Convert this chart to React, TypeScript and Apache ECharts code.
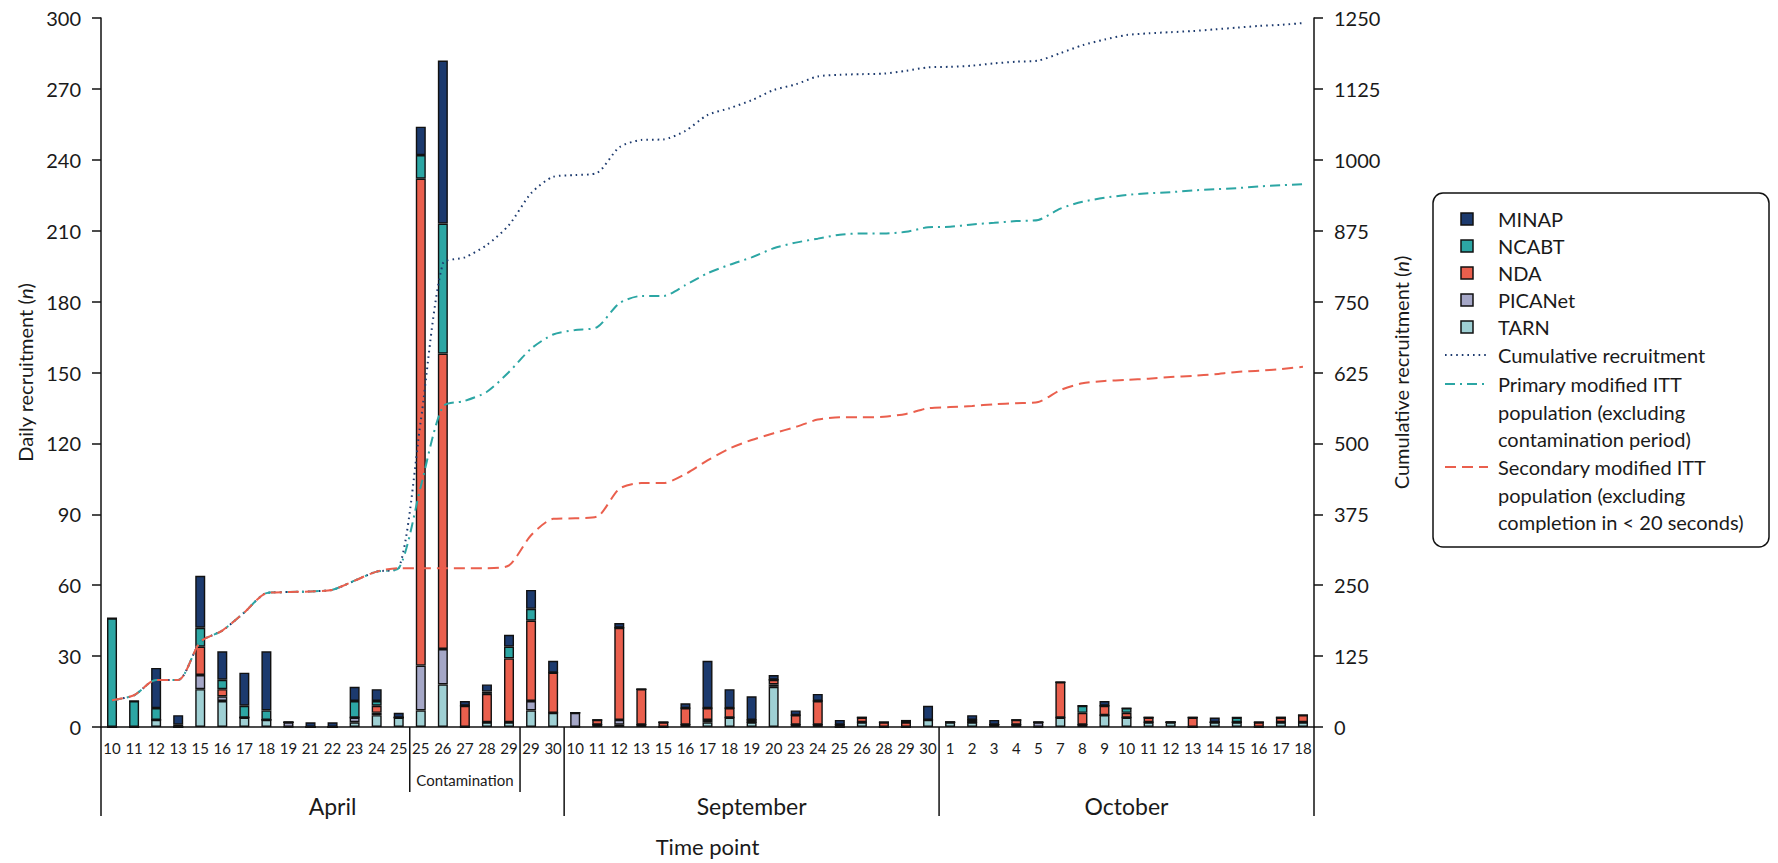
import React, { useEffect, useRef } from 'react';
import * as echarts from 'echarts';

// ---------- DATA ----------
const dayLabels = [
  '10', '11', '12', '13', '15', '16', '17', '18', '19', '21', '22', '23', '24', '25',
  '25', '26', '27', '28', '29',
  '29', '30',
  '10', '11', '12', '13', '15', '16', '17', '18', '19', '20', '23', '24', '25', '26', '28', '29', '30',
  '1', '2', '3', '4', '5', '7', '8', '9', '10', '11', '12', '13', '14', '15', '16', '17', '18',
];

const months = [
  { name: 'April', first: 0, last: 20 },
  { name: 'September', first: 21, last: 37 },
  { name: 'October', first: 38, last: 54 },
];
const contaminationPeriod = { name: 'Contamination', first: 14, last: 18 };

const tarn = [
  0, 0, 3, 0, 16, 11, 4, 3, 0, 0, 0, 2, 5, 4,
  7, 18, 0, 2, 2,
  7, 6,
  0, 1, 1, 1, 0, 1, 2, 4, 2, 17, 1, 1, 0, 2, 0, 0, 3,
  2, 2, 1, 1, 0, 4, 1, 5, 4, 2, 2, 0, 2, 2, 0, 2, 2,
];
const picanet = [
  0, 0, 0, 0, 6, 2, 0, 0, 2, 0, 0, 2, 1, 0,
  19, 15, 0, 0, 0,
  4, 0,
  6, 0, 2, 0, 0, 0, 1, 0, 0, 1, 0, 0, 0, 0, 0, 0, 0,
  0, 0, 0, 0, 2, 0, 0, 0, 0, 0, 0, 0, 0, 0, 0, 0, 0,
];
const nda = [
  0, 0, 0, 0, 12, 3, 0, 0, 0, 0, 0, 0, 3, 0,
  206, 125, 9, 12, 27,
  34, 17,
  0, 2, 39, 15, 2, 7, 5, 4, 1, 2, 4, 10, 1, 2, 2, 2, 0,
  0, 1, 0, 2, 0, 15, 5, 4, 2, 2, 0, 4, 0, 0, 2, 2, 3,
];
const ncabt = [
  46, 11, 5, 1, 8, 4, 5, 4, 0, 0, 0, 7, 2, 0,
  10, 55, 0, 1, 5,
  5, 0,
  0, 0, 0, 0, 0, 0, 0, 0, 0, 0, 0, 0, 0, 0, 0, 0, 0,
  0, 0, 0, 0, 0, 0, 3, 0, 2, 0, 0, 0, 0, 2, 0, 0, 0,
];
const minap = [
  0, 0, 17, 4, 22, 12, 14, 25, 0, 2, 2, 6, 5, 2,
  12, 69, 2, 3, 5,
  8, 5,
  0, 0, 2, 0, 0, 2, 20, 8, 10, 2, 2, 3, 2, 0, 0, 1, 6,
  0, 2, 2, 0, 0, 0, 0, 2, 0, 0, 0, 0, 2, 0, 0, 0, 0,
];

const cumulative = [
  47, 56, 83, 83, 150, 170, 202, 236, 238, 239, 242, 258, 274, 280,
  540, 817, 828, 850, 885,
  941, 970,
  973, 977, 1022, 1035, 1036, 1051, 1079, 1091, 1105, 1123, 1133, 1147, 1150, 1151, 1152, 1157, 1163,
  1164, 1166, 1170, 1173, 1175, 1188, 1202, 1212, 1220, 1223, 1225, 1227, 1230, 1233, 1236, 1238, 1241,
];
const primaryITT = [
  47, 56, 83, 83, 150, 170, 202, 236, 238, 239, 242, 258, 274, 280,
  424, 565, 575, 591, 626,
  667, 692,
  700, 705, 747, 760, 760, 779, 800, 815, 828, 844, 854, 861, 868, 870, 870, 873, 881,
  882, 886, 889, 892, 894, 914, 926, 933, 938, 941, 943, 946, 948, 950, 953, 955, 957,
];
const secondaryITT = [
  47, 56, 83, 83, 150, 170, 202, 236, 238, 239, 242, 258, 274, 280,
  280, 280, 280, 280, 285,
  338, 367,
  368, 371, 420, 430, 430, 446, 470, 491, 506, 518, 529, 542, 546, 546, 547, 552, 562,
  564, 566, 569, 571, 573, 594, 606, 610, 612, 614, 617, 619, 622, 626, 628, 631, 635,
];

const leftTicks = { min: 0, max: 300, interval: 30 };
const rightTicks = { min: 0, max: 1250, interval: 125 };

// ---------- STYLE ----------
const TEXT = '#1a1a1a';
const FONT = 'Lato, "Noto Sans", sans-serif';
const C = {
  MINAP: '#1c3a6e',
  NCABT: '#2ca6a4',
  NDA: '#ea5f4d',
  PICANet: '#a5a7c7',
  TARN: '#9fd0d4',
};
const DOT: number[] = [1.6, 4];
const DASHDOT: number[] = [10, 5, 2, 5];
const DASH: number[] = [11, 6];

const categoryIds = dayLabels.map((d, i) => `${i}|${d}`);

export default function App() {
  const ref = useRef<HTMLDivElement>(null);

  useEffect(() => {
    const el = ref.current!;
    const chart = echarts.init(el, undefined, { renderer: 'svg' });

    const barSeries = (name: string, data: number[], color: string) => ({
      name,
      type: 'bar',
      stack: 'daily',
      data,
      barWidth: 10,
      itemStyle: { color, borderColor: '#111', borderWidth: 1.4 },
      emphasis: { disabled: true },
    });
    const lineSeries = (name: string, data: number[], color: string, dash: number[]) => ({
      name,
      type: 'line',
      yAxisIndex: 1,
      data,
      symbol: 'none',
      smooth: 0.25,
      lineStyle: { color, width: 2, type: dash, cap: 'butt' },
      z: 5,
    });
    const nameStyle = {
      fontSize: 20, color: TEXT, fontFamily: FONT,
      rich: { i: { fontStyle: 'italic', fontSize: 20, fontFamily: FONT, color: TEXT } },
    };

    chart.setOption({
      animation: false,
      textStyle: { fontFamily: FONT, color: TEXT },
      grid: { left: 101, right: 464, top: 18, bottom: 136, containLabel: false },
      xAxis: {
        type: 'category',
        data: categoryIds,
        axisLine: { show: true, lineStyle: { color: '#111', width: 1.5 } },
        axisTick: { show: false },
        axisLabel: {
          interval: 0,
          margin: 13,
          fontSize: 15,
          color: TEXT,
          fontFamily: FONT,
          formatter: (v: string) => v.split('|')[1],
        },
        name: 'Time point',
        nameLocation: 'middle',
        nameGap: 108,
        nameTextStyle: { fontSize: 22, color: TEXT, fontFamily: FONT },
      },
      yAxis: [
        {
          type: 'value',
          position: 'left',
          ...leftTicks,
          axisLine: { show: true, lineStyle: { color: '#111', width: 1.5 } },
          axisTick: { show: true, length: 9, lineStyle: { color: '#111', width: 1.5 } },
          splitLine: { show: false },
          axisLabel: { fontSize: 20, color: TEXT, margin: 20, fontFamily: FONT },
          name: 'Daily recruitment ({i|n})',
          nameLocation: 'middle',
          nameGap: 66,
          nameTextStyle: nameStyle,
        },
        {
          type: 'value',
          position: 'right',
          ...rightTicks,
          axisLine: { show: true, lineStyle: { color: '#111', width: 1.5 } },
          axisTick: { show: true, length: 9, lineStyle: { color: '#111', width: 1.5 } },
          splitLine: { show: false },
          axisLabel: {
            fontSize: 20, color: TEXT, margin: 20, fontFamily: FONT,
            formatter: (v: number) => String(v),
          },
          name: 'Cumulative recruitment ({i|n})',
          nameLocation: 'middle',
          nameGap: 72,
          nameTextStyle: nameStyle,
        },
      ],
      series: [
        barSeries('TARN', tarn, C.TARN),
        barSeries('PICANet', picanet, C.PICANet),
        barSeries('NDA', nda, C.NDA),
        barSeries('NCABT', ncabt, C.NCABT),
        barSeries('MINAP', minap, C.MINAP),
        lineSeries('Cumulative recruitment', cumulative, C.MINAP, DOT),
        lineSeries('Primary modified ITT population (excluding contamination period)', primaryITT, C.NCABT, DASHDOT),
        lineSeries('Secondary modified ITT population (excluding completion in < 20 seconds)', secondaryITT, C.NDA, DASH),
      ],
    });

    // Positions derived from the category scale
    const xAt = (i: number) => chart.convertToPixel({ xAxisIndex: 0 }, categoryIds[i]) as number;
    const step = xAt(1) - xAt(0);
    const edgeBefore = (i: number) => xAt(i) - step / 2;
    const edgeAfter = (i: number) => xAt(i) + step / 2;
    const y0 = chart.convertToPixel({ yAxisIndex: 0 }, 0) as number;

    const lineEl = (x1: number, y1: number, x2: number, y2: number, stroke = '#111', lw = 1.5, dash?: number[]) => ({
      type: 'line',
      silent: true,
      shape: { x1, y1, x2, y2 },
      style: { stroke, lineWidth: lw, lineDash: dash },
    });

    const graphics: any[] = [];
    const monthEdges = [edgeBefore(months[0].first), ...months.map((m) => edgeAfter(m.last))];
    monthEdges.forEach((x) => graphics.push(lineEl(x, y0, x, y0 + 89)));
    months.forEach((m) => {
      graphics.push({
        type: 'text',
        silent: true,
        style: {
          x: (edgeBefore(m.first) + edgeAfter(m.last)) / 2,
          y: y0 + 79,
          text: m.name,
          fontSize: 23,
          fontFamily: FONT,
          fill: TEXT,
          align: 'center',
          verticalAlign: 'middle',
        },
      });
    });
    const cx1 = edgeBefore(contaminationPeriod.first);
    const cx2 = edgeAfter(contaminationPeriod.last);
    graphics.push(lineEl(cx1, y0, cx1, y0 + 65));
    graphics.push(lineEl(cx2, y0, cx2, y0 + 65));
    graphics.push({
      type: 'text',
      silent: true,
      style: {
        x: (cx1 + cx2) / 2,
        y: y0 + 53,
        text: contaminationPeriod.name,
        fontSize: 15,
        fontFamily: FONT,
        fill: TEXT,
        align: 'center',
        verticalAlign: 'middle',
      },
    });

    // Legend box
    const LX = 1433, LY = 193, LW = 336, LH = 354;
    graphics.push({
      type: 'rect',
      silent: true,
      shape: { x: LX, y: LY, width: LW, height: LH, r: 10 },
      style: { fill: '#fff', stroke: '#111', lineWidth: 1.5 },
    });
    const textX = 1498;
    const rowH = 27.5;
    const squares: [string, string][] = [
      ['MINAP', C.MINAP], ['NCABT', C.NCABT], ['NDA', C.NDA], ['PICANet', C.PICANet], ['TARN', C.TARN],
    ];
    squares.forEach(([name, color], k) => {
      const cy = 219 + k * 27;
      graphics.push({
        type: 'rect',
        silent: true,
        shape: { x: 1461, y: cy - 6, width: 12, height: 12 },
        style: { fill: color, stroke: '#111', lineWidth: 1.5 },
      });
      graphics.push({
        type: 'text',
        silent: true,
        style: { x: textX, y: cy, text: name, fontSize: 20, fontFamily: FONT, fill: TEXT, verticalAlign: 'middle' },
      });
    });
    const lineItems: [string, string, number[], number][] = [
      ['Cumulative recruitment', C.MINAP, DOT, 355],
      ['Primary modified ITT\npopulation (excluding\ncontamination period)', C.NCABT, DASHDOT, 384],
      ['Secondary modified ITT\npopulation (excluding\ncompletion in < 20 seconds)', C.NDA, DASH, 467],
    ];
    lineItems.forEach(([name, color, dash, cy]) => {
      graphics.push(lineEl(1445, cy, 1488, cy, color, 2, dash));
      graphics.push({
        type: 'text',
        silent: true,
        style: {
          x: textX,
          y: cy - rowH / 2,
          text: name,
          fontSize: 20,
          lineHeight: rowH,
          fontFamily: FONT,
          fill: TEXT,
          verticalAlign: 'top',
        },
      });
    });

    chart.setOption({ graphic: graphics });

    return () => chart.dispose();
  }, []);

  return <div ref={ref} style={{ position: 'fixed', left: 0, top: 0, width: 1778, height: 863, background: '#fff' }} />;
}
